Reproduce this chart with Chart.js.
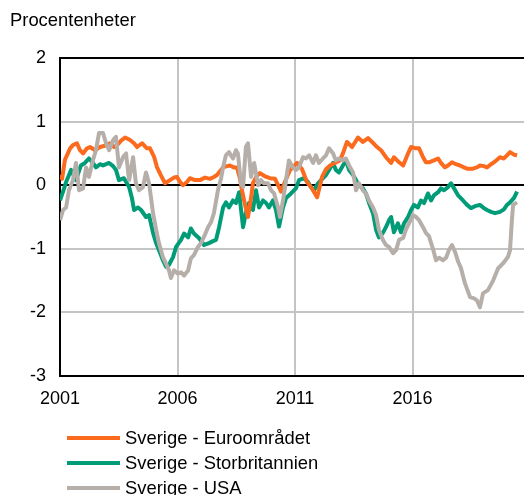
<!DOCTYPE html>
<html>
<head>
<meta charset="utf-8">
<script src="https://cdn.jsdelivr.net/npm/chart.js@4/dist/chart.umd.min.js"></script>
<style>
html,body{margin:0;padding:0;background:#fff;overflow:hidden;width:524px;height:495px;}
canvas{display:block;}
</style>
</head>
<body>
<canvas id="c" width="540" height="495"></canvas>
<script>
const unitLabel = "Procentenheter";
const seriesNames = ["Sverige - Euroområdet", "Sverige - Storbritannien", "Sverige - USA"];
const seriesColors = ["#fc6a1e", "#009c78", "#b6afa9"];
const xTickYears = [2001, 2006, 2011, 2016];
const yTicks = [2, 1, 0, -1, -2, -3];

const euroYears = [2001.00,2001.09,2001.21,2001.43,2001.55,2001.72,2001.85,2001.98,2002.15,2002.28,2002.49,2002.70,2002.91,2003.13,2003.30,2003.43,2003.60,2003.77,2003.98,2004.15,2004.28,2004.49,2004.70,2004.83,2005.00,2005.13,2005.30,2005.47,2005.68,2005.85,2005.98,2006.11,2006.23,2006.40,2006.53,2006.74,2006.96,2007.17,2007.38,2007.55,2007.68,2007.81,2007.94,2008.11,2008.23,2008.40,2008.53,2008.66,2008.74,2008.87,2009.00,2009.13,2009.21,2009.38,2009.51,2009.72,2009.94,2010.15,2010.28,2010.40,2010.57,2010.79,2010.96,2011.09,2011.30,2011.51,2011.72,2011.94,2012.15,2012.32,2012.49,2012.70,2012.91,2013.04,2013.21,2013.43,2013.68,2013.89,2014.11,2014.28,2014.49,2014.66,2014.87,2015.09,2015.21,2015.43,2015.60,2015.81,2015.94,2016.15,2016.28,2016.45,2016.57,2016.70,2016.91,2017.09,2017.21,2017.38,2017.51,2017.68,2017.85,2018.02,2018.19,2018.32,2018.57,2018.74,2018.87,2019.04,2019.17,2019.34,2019.47,2019.60,2019.72,2019.89,2020.02,2020.15,2020.32,2020.45];
const euroValues = [0.16,0.10,0.40,0.58,0.63,0.66,0.55,0.50,0.58,0.60,0.55,0.60,0.62,0.66,0.60,0.63,0.70,0.75,0.71,0.66,0.60,0.66,0.58,0.58,0.45,0.28,0.15,0.03,0.08,0.12,0.13,0.05,0.00,0.05,0.11,0.08,0.08,0.12,0.10,0.13,0.16,0.22,0.28,0.30,0.31,0.28,0.28,0.10,-0.08,-0.30,-0.50,-0.20,0.03,0.15,0.19,0.14,0.11,0.10,0.00,-0.10,0.05,0.24,0.30,0.35,0.25,0.05,-0.05,-0.19,0.13,0.25,0.31,0.35,0.39,0.50,0.68,0.60,0.75,0.68,0.74,0.68,0.60,0.55,0.44,0.35,0.44,0.36,0.31,0.50,0.60,0.58,0.58,0.44,0.36,0.36,0.39,0.42,0.35,0.28,0.31,0.36,0.33,0.31,0.28,0.26,0.26,0.28,0.31,0.30,0.28,0.33,0.36,0.40,0.44,0.42,0.47,0.52,0.48,0.47];

const ukYears = [2001.00,2001.13,2001.26,2001.47,2001.68,2001.89,2002.06,2002.23,2002.40,2002.53,2002.70,2002.83,2002.96,2003.09,2003.26,2003.38,2003.51,2003.72,2003.94,2004.06,2004.15,2004.32,2004.45,2004.66,2004.79,2004.96,2005.09,2005.21,2005.38,2005.51,2005.64,2005.81,2005.94,2006.15,2006.28,2006.45,2006.57,2006.70,2006.91,2007.13,2007.34,2007.51,2007.64,2007.77,2007.94,2008.06,2008.19,2008.36,2008.49,2008.62,2008.79,2008.91,2009.04,2009.21,2009.34,2009.47,2009.64,2009.77,2009.89,2010.06,2010.19,2010.32,2010.49,2010.62,2010.83,2011.04,2011.17,2011.38,2011.55,2011.68,2011.81,2011.98,2012.11,2012.32,2012.45,2012.62,2012.74,2012.87,2013.04,2013.17,2013.30,2013.47,2013.60,2013.72,2013.89,2014.02,2014.15,2014.32,2014.45,2014.57,2014.74,2014.87,2015.00,2015.09,2015.21,2015.38,2015.51,2015.64,2015.81,2015.94,2016.06,2016.23,2016.36,2016.49,2016.66,2016.79,2016.91,2017.09,2017.21,2017.34,2017.51,2017.64,2017.77,2017.94,2018.15,2018.32,2018.49,2018.66,2018.87,2019.04,2019.17,2019.34,2019.51,2019.72,2019.89,2020.02,2020.15,2020.32,2020.45];
const ukValues = [-0.24,-0.10,0.05,0.24,0.08,0.31,0.35,0.42,0.35,0.28,0.33,0.31,0.33,0.35,0.30,0.24,0.08,0.11,-0.03,-0.20,-0.39,-0.35,-0.39,-0.50,-0.47,-0.75,-0.91,-1.02,-1.18,-1.28,-1.25,-1.13,-0.97,-0.86,-0.76,-0.82,-0.68,-0.76,-0.83,-0.94,-0.91,-0.88,-0.86,-0.66,-0.35,-0.27,-0.35,-0.24,-0.28,-0.11,-0.66,-0.44,-0.28,-0.39,-0.08,-0.35,-0.24,-0.28,-0.35,-0.24,-0.39,-0.65,-0.35,-0.20,-0.13,-0.05,0.08,0.11,0.05,-0.03,-0.08,0.03,0.08,0.16,0.24,0.35,0.24,0.20,0.31,0.39,0.24,0.16,0.08,0.00,-0.05,-0.13,-0.28,-0.44,-0.70,-0.82,-0.75,-0.66,-0.55,-0.50,-0.74,-0.60,-0.74,-0.60,-0.50,-0.39,-0.31,-0.35,-0.24,-0.28,-0.13,-0.24,-0.16,-0.11,-0.05,-0.08,-0.03,0.03,-0.05,-0.16,-0.24,-0.31,-0.36,-0.33,-0.31,-0.36,-0.39,-0.42,-0.44,-0.42,-0.38,-0.31,-0.27,-0.20,-0.10];

const usaYears = [2001.00,2001.13,2001.26,2001.38,2001.55,2001.68,2001.81,2001.98,2002.11,2002.23,2002.40,2002.53,2002.66,2002.83,2002.96,2003.09,2003.26,2003.38,2003.51,2003.68,2003.81,2003.94,2004.11,2004.23,2004.36,2004.53,2004.66,2004.79,2004.96,2005.09,2005.21,2005.38,2005.51,2005.64,2005.72,2005.85,2006.02,2006.15,2006.28,2006.45,2006.57,2006.70,2006.87,2007.00,2007.13,2007.30,2007.43,2007.55,2007.72,2007.85,2007.94,2008.06,2008.19,2008.36,2008.49,2008.57,2008.70,2008.79,2008.91,2009.00,2009.13,2009.26,2009.43,2009.55,2009.68,2009.85,2009.98,2010.11,2010.28,2010.36,2010.49,2010.62,2010.74,2010.91,2011.04,2011.17,2011.34,2011.47,2011.60,2011.77,2011.89,2012.02,2012.19,2012.32,2012.45,2012.62,2012.74,2012.87,2013.04,2013.17,2013.30,2013.47,2013.60,2013.72,2013.89,2014.02,2014.15,2014.32,2014.45,2014.57,2014.74,2014.87,2015.00,2015.17,2015.30,2015.43,2015.60,2015.72,2015.85,2016.02,2016.15,2016.28,2016.45,2016.57,2016.70,2016.87,2017.00,2017.13,2017.30,2017.43,2017.55,2017.68,2017.81,2017.94,2018.06,2018.23,2018.45,2018.62,2018.74,2018.87,2019.00,2019.21,2019.43,2019.64,2019.85,2020.06,2020.15,2020.23,2020.28,2020.45];
const usaValues = [-0.55,-0.39,-0.35,-0.08,0.08,0.35,-0.08,-0.05,0.28,0.13,0.39,0.55,0.82,0.82,0.66,0.55,0.71,0.76,0.28,0.44,0.50,0.08,0.44,0.03,-0.08,-0.03,0.20,0.03,-0.44,-0.70,-0.91,-1.13,-1.23,-1.34,-1.46,-1.34,-1.39,-1.37,-1.42,-1.34,-1.15,-1.10,-0.97,-0.91,-0.81,-0.66,-0.58,-0.44,-0.08,0.10,0.28,0.47,0.52,0.42,0.55,0.50,0.03,-0.03,0.60,0.66,0.13,0.35,0.00,0.08,0.03,0.03,-0.08,-0.13,-0.35,-0.50,-0.24,0.08,0.39,0.28,0.24,0.28,0.44,0.42,0.47,0.35,0.47,0.35,0.42,0.47,0.58,0.50,0.39,0.42,0.39,0.42,0.31,0.20,-0.08,0.03,-0.08,-0.13,-0.24,-0.35,-0.47,-0.70,-0.86,-0.94,-0.97,-1.07,-1.02,-0.86,-0.83,-0.70,-0.60,-0.47,-0.50,-0.55,-0.66,-0.75,-0.80,-1.00,-1.18,-1.14,-1.18,-1.14,-1.02,-0.94,-1.05,-1.20,-1.30,-1.54,-1.76,-1.78,-1.81,-1.92,-1.70,-1.65,-1.50,-1.31,-1.23,-1.13,-1.02,-0.55,-0.31,-0.27];

const FONT = "'Liberation Sans', Arial, sans-serif";
function pts(xs, ys){ return xs.map((x,i)=>({x:x, y:ys[i]})); }

const seriesData = [pts(euroYears, euroValues), pts(ukYears, ukValues), pts(usaYears, usaValues)];
const drawOrder = [1, 2, 0];

const extras = {
  id: 'extras',
  afterDraw(chart){
    const ctx = chart.ctx;
    ctx.save();
    ctx.fillStyle = '#000';
    ctx.font = '18.4px ' + FONT;
    ctx.textAlign = 'left';
    ctx.textBaseline = 'alphabetic';
    ctx.fillText(unitLabel, 10, 26);
    seriesNames.forEach((name, i) => {
      const y = 438 + i * 25;
      ctx.strokeStyle = seriesColors[i];
      ctx.lineWidth = 4;
      ctx.lineCap = 'butt';
      ctx.beginPath();
      ctx.moveTo(67, y);
      ctx.lineTo(120, y);
      ctx.stroke();
      ctx.fillStyle = '#000';
      ctx.textBaseline = 'middle';
      ctx.fillText(name, 125, y + 1);
    });
    ctx.restore();
  }
};

new Chart(document.getElementById('c'), {
  type: 'line',
  data: {
    datasets: seriesNames.map((n, i) => ({
      label: n,
      data: seriesData[i],
      borderColor: seriesColors[i],
      backgroundColor: seriesColors[i],
      borderWidth: 4,
      pointRadius: 0,
      tension: 0,
      fill: false,
      borderJoinStyle: 'round',
      order: drawOrder[i]
    }))
  },
  options: {
    responsive: false,
    animation: false,
    events: [],
    layout: { padding: { top: 58, left: 0, right: 10, bottom: 89 } },
    plugins: { legend: { display: false }, tooltip: { enabled: false }, title: { display: false } },
    scales: {
      x: {
        type: 'linear',
        min: 2001,
        max: 2021,
        afterBuildTicks: s => { s.ticks = xTickYears.map(v => ({ value: v })); },
        afterFit: s => { s.height = 30; },
        grid: {
          drawTicks: false,
          color: c => (c.tick && c.tick.value === 2001) ? '#000' : '#c4c4c4',
          lineWidth: 2
        },
        border: { display: true, color: '#000', width: 2 },
        ticks: {
          color: '#000',
          font: { family: FONT, size: 18 },
          padding: 12,
          maxRotation: 0,
          autoSkip: false,
          callback: v => String(v)
        }
      },
      y: {
        min: -3,
        max: 2,
        afterBuildTicks: s => { s.ticks = yTicks.map(v => ({ value: v })); },
        afterFit: s => { s.width = 60; },
        grid: {
          drawTicks: false,
          color: c => {
            const v = c.tick ? c.tick.value : null;
            return (v === 0 || v === 2 || v === -3) ? '#000' : '#c4c4c4';
          },
          lineWidth: 2
        },
        border: { display: true, color: '#000', width: 2 },
        ticks: {
          color: '#000',
          font: { family: FONT, size: 18 },
          padding: 14,
          autoSkip: false,
          callback: v => String(v)
        }
      }
    }
  },
  plugins: [extras]
});
</script>
</body>
</html>
